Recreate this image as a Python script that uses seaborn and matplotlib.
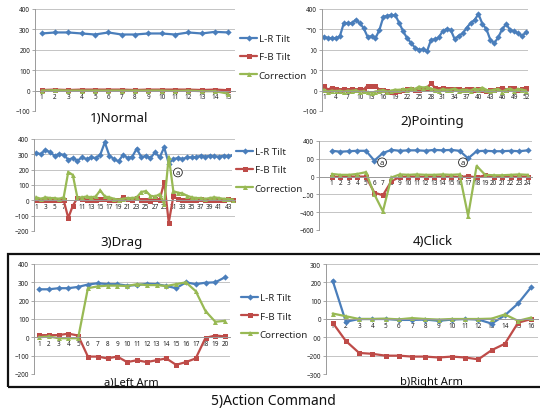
import numpy as np
import seaborn as sns
import matplotlib.pyplot as plt
from matplotlib.patches import Rectangle

sns.set_theme(style="white")
plt.rcParams['font.family'] = ['Noto Sans', 'DejaVu Sans']

# ===== data =====
series = ["L-R Tilt", "F-B Tilt", "Correction"]
colors = {"L-R Tilt": "#4a7ebb", "F-B Tilt": "#be4b48", "Correction": "#98b954"}
markers = {"L-R Tilt": "D", "F-B Tilt": "s", "Correction": "^"}

# 1) Normal
lr_normal = [280, 285, 285, 280, 275, 285, 275, 275, 280, 280, 275, 285, 280, 288, 285]
fb_normal = [3, 5, 3, 5, 5, 5, 5, 3, 5, 5, 5, 5, 3, 5, 2]
cor_normal = [0, 2, 0, 0, 0, 0, 0, 0, 0, 0, -2, 0, -3, -3, -15]

# 2) Pointing
lr_point = [265, 257, 257, 257, 266, 330, 331, 330, 347, 331, 307, 264, 266, 257, 298, 362,
            367, 370, 370, 331, 290, 257, 233, 210, 200, 202, 192, 248, 252, 261, 293, 302,
            297, 252, 269, 280, 307, 331, 346, 375, 326, 302, 248, 233, 261, 302, 326, 297,
            290, 280, 269, 285]
fb_point = [22, 5, 15, 8, 5, 8, 5, 8, 5, 10, 5, 25, 25, 22, 5, 5, 0, -5, -5, 0, 5, 8, 8, 5,
            5, 10, 15, 35, 15, 10, 12, 8, 10, 8, 10, 5, 10, 8, 5, 8, 5, 0, 5, 5, 8, 15, 5, 12,
            15, 5, 10, 12]
cor_point = [5, -5, 0, -3, 0, -5, 0, -2, 2, -5, -3, -8, -10, -5, 0, 3, -5, 0, 5, 3, 8, 5, 12,
             8, 20, 15, 18, 10, 5, 0, 8, 3, 5, 10, 0, 5, 3, 0, 10, 5, 15, 3, 0, 5, 8, -5, 5,
             10, 0, 8, 5, 0]

# 3) Drag
lr_drag = [308, 302, 330, 313, 291, 302, 297, 265, 276, 258, 280, 269, 280, 276, 297, 378,
           291, 269, 254, 297, 276, 284, 338, 280, 291, 276, 313, 280, 345, 240, 269, 276,
           269, 280, 280, 282, 291, 285, 291, 287, 285, 291, 287, 295]
fb_drag = [0, 0, 0, 0, 0, 0, 0, -115, -35, 15, 10, 0, 5, 0, 10, 10, 5, 5, 0, 20, 10, 5, 15,
           5, 0, -5, 10, 0, 120, -145, 25, 10, 5, 5, 0, 0, 10, 0, 5, 0, 0, 5, 10, 5]
cor_drag = [20, 10, 20, 15, 15, 10, 20, 185, 165, 18, 20, 25, 20, 25, 65, 25, 20, 10, 5, 10,
            15, 15, 20, 55, 60, 30, 25, 40, -25, 285, 60, 50, 45, 30, 20, 15, 15, 10, 15, 20,
            15, 10, 10, 5]

# 4) Click
lr_click = [290, 280, 285, 290, 290, 180, 265, 300, 290, 295, 295, 290, 300, 295, 300, 290,
            205, 285, 290, 285, 285, 290, 285, 295]
fb_click = [0, -5, 0, 0, 0, -180, -210, -50, -5, 0, 0, -5, 0, 0, 0, -5, 5, -10, 15, 0, 0, 0,
            0, 0]
cor_click = [30, 20, 20, 30, 50, -200, -390, -10, 25, 20, 25, 20, 20, 25, 20, 25, -440, 120,
             20, 15, 15, 20, 25, 20]

# a) Left Arm
lr_left = [262, 262, 268, 268, 275, 288, 295, 290, 290, 282, 285, 292, 290, 280, 268, 300,
           290, 298, 300, 328]
fb_left = [12, 12, 12, 20, 10, -105, -105, -115, -105, -135, -125, -135, -125, -115, -150,
           -135, -115, -3, 10, 5]
cor_left = [0, 5, -5, -5, -5, 268, 278, 282, 282, 280, 290, 285, 285, 280, 290, 300, 252,
            143, 85, 90]

# b) Right Arm
lr_right = [210, -15, 0, 0, 0, -5, -5, -3, -10, -3, 0, -3, -25, 20, 85, 175]
fb_right = [-20, -120, -185, -190, -200, -200, -205, -205, -210, -205, -210, -220, -170,
            -135, -20, 0]
cor_right = [30, 15, 0, 0, 2, -2, 5, 0, -3, 0, 0, 0, 2, 25, -10, 8]

W, H = 540, 410
fig = plt.figure(figsize=(W / 100, H / 100), dpi=100)


def box(l, r, t, b):
    return [l / W, 1 - b / H, (r - l) / W, (b - t) / H]


def panel(rect, lr, fb, cor, ylo, yhi, ystep, xstep=1, xlo=0.5):
    ax = fig.add_axes(box(*rect))
    x = np.arange(1, len(lr) + 1)
    for name, vals in zip(series, [lr, fb, cor]):
        sns.lineplot(x=x, y=vals, ax=ax, color=colors[name], marker=markers[name],
                     markersize=3.6 if name != "L-R Tilt" else 3.2, markeredgewidth=0,
                     linewidth=1.6, legend=False)
    ax.set_xlim(xlo, len(lr) + 0.5)
    ax.set_ylim(ylo, yhi)
    ax.set_yticks(np.arange(ylo, yhi + 1, ystep))
    ax.set_xticks(x[::xstep])
    ax.set_xticklabels([str(v) for v in x[::xstep]])
    ax.yaxis.grid(True, color="#c4c4c4", lw=0.7)
    ax.set_axisbelow(True)
    for s in ["top", "right"]:
        ax.spines[s].set_visible(False)
    ax.spines["left"].set_color("#9a9a9a")
    ax.spines["left"].set_linewidth(0.7)
    ax.spines["bottom"].set_position(("data", 0))
    ax.spines["bottom"].set_color("#9a9a9a")
    ax.spines["bottom"].set_linewidth(0.7)
    ax.tick_params(axis="x", length=0, pad=2, labelsize=4.6, colors="#222222")
    ax.tick_params(axis="y", length=2, width=0.6, color="#9a9a9a", pad=1.5,
                   labelsize=4.6, labelcolor="#222222", left=True)
    ax.set_xlabel("")
    ax.set_ylabel("")
    ax.set_facecolor("none")
    return ax


def add_legend(ax, px, py):
    handles = ax.get_lines()[:3]
    ax.legend(handles, series, loc="center left", bbox_to_anchor=(px / W, 1 - py / H),
              bbox_transform=fig.transFigure, frameon=True, facecolor="white",
              edgecolor="none", framealpha=1, fontsize=7, handlelength=1.7,
              handletextpad=0.2, labelspacing=0.95, borderpad=0.45, borderaxespad=0)


def circ(ax, x, y):
    ax.text(x, y, "a", ha="center", va="center", fontsize=5.5,
            bbox=dict(boxstyle="circle,pad=0.12", fc="white", ec="#222222", lw=0.6))


ax_point = panel((322, 528, 10, 112), lr_point, fb_point, cor_point, -100, 400, 100, xstep=3)
ax_norm = panel((35, 235, 10, 112), lr_normal, fb_normal, cor_normal, -100, 400, 100)
ax_norm.set_zorder(3)
add_legend(ax_norm, 236, 58)

ax_click = panel((319, 532, 142, 231), lr_click, fb_click, cor_click, -600, 400, 200, xlo=-0.5)
circ(ax_click, 6.9, 160)
circ(ax_click, 16.4, 160)
ax_drag = panel((34, 235, 140, 232), lr_drag, fb_drag, cor_drag, -200, 400, 100, xstep=2)
ax_drag.set_zorder(3)
add_legend(ax_drag, 232, 171)
circ(ax_drag, 32, 182)

ax_right = panel((326, 538, 265, 375), lr_right, fb_right, cor_right, -300, 300, 100)
ax_left = panel((34, 230, 265, 375), lr_left, fb_left, cor_left, -200, 400, 100)
ax_left.set_zorder(3)
add_legend(ax_left, 237, 317)

fig.add_artist(Rectangle((8 / W, 1 - 388 / H), 1.0, (388 - 255) / H, transform=fig.transFigure,
                         fill=False, ec="#111111", lw=1.6))

titles = [("1)Normal", 119, 118, 9.5), ("2)Pointing", 432, 122, 9.5), ("3)Drag", 122, 243, 9.5),
          ("4)Click", 433, 242, 9.5), ("a)Left Arm", 131, 383, 8), ("b)Right Arm", 431, 383, 8),
          ("5)Action Command", 273, 402, 10)]
for txt, px, py, fs in titles:
    fig.text(px / W, 1 - py / H, txt, ha="center", va="center", fontsize=fs, color="#111111")

fig.savefig("out.png", dpi=100)
